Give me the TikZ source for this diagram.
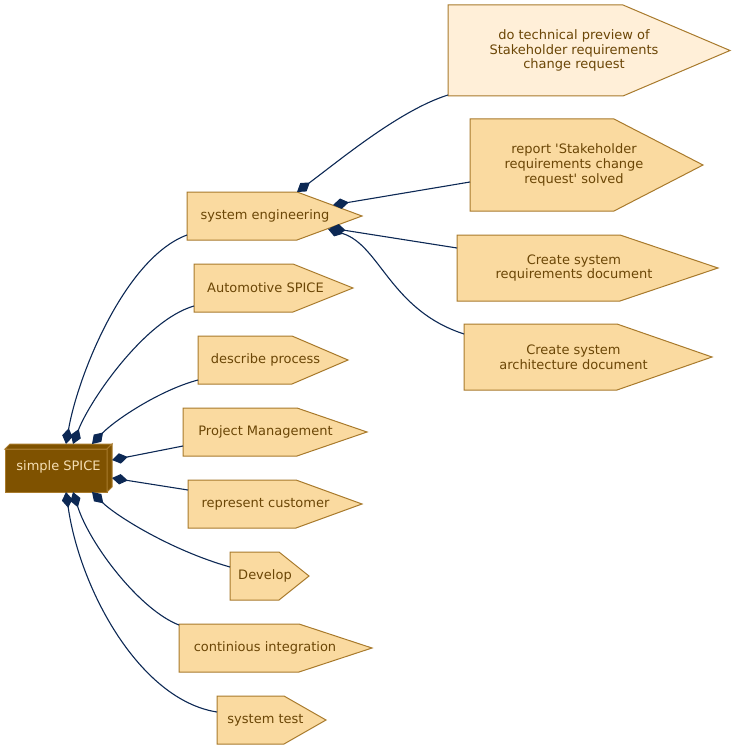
\documentclass[tikz,border=0pt]{standalone}
\usepackage{fontspec}
\setmainfont{DejaVu Sans}[Ligatures=TeXOff]
\usetikzlibrary{arrows.meta,calc}
\definecolor{fillA}{RGB}{250,218,160}
\definecolor{fillB}{RGB}{255,239,216}
\definecolor{bordc}{RGB}{168,122,44}
\definecolor{textc}{RGB}{107,70,6}
\definecolor{darkc}{RGB}{127,82,0}
\definecolor{wheatc}{RGB}{245,222,179}
\definecolor{edgec}{RGB}{12,40,84}
\tikzset{
  pent/.style={draw=bordc, line width=1pt, line join=miter},
  lbl/.style={text=textc, font=\fontsize{13}{14.7}\selectfont, align=center, inner sep=0},
  conn/.style={draw=edgec, line width=1.1pt, {Diamond[length=16pt,width=10.5pt]}-},
  frame/.style={draw=none, inner sep=0, outer sep=0},
}
% name, left, corner, tip, top, bottom, text x, fill, text
\newcommand\pentnode[9]{%
  \node[frame, minimum width={(#3-#2)*1pt}, minimum height={(#6-#5)*1pt}] (#1) at ({(#2+#3)/2},{(#5+#6)/2}) {};
  \path[pent, fill=#8] (#1.north west) -- (#1.north east) -- ($(#1.east)+(#4-#3,0)$) -- (#1.south east) -- (#1.south west) -- cycle;
  \node[lbl] (#1-t) at (#7,{(#5+#6)/2}) {#9};
}
\begin{document}
\begin{tikzpicture}[x=1pt,y=-1pt]
\useasboundingbox (0,0) rectangle (735,749);
% central node
\node[draw=bordc, fill=darkc, line width=1pt, minimum width=102pt, minimum height=43pt, inner sep=0, outer sep=0] (sp) at (56,470.5) {};
\path[draw=bordc, fill=darkc, line width=1pt, line join=miter] (sp.north west) -- ++(5,-5) -- ($(sp.north east)+(5,-5)$) -- (sp.north east) -- cycle;
\path[draw=bordc, fill=darkc, line width=1pt, line join=miter] (sp.north east) -- ++(5,-5) -- ($(sp.south east)+(5,-5)$) -- (sp.south east) -- cycle;
\node[lbl, text=wheatc] (sp-t) at (58.5,467) {simple SPICE};
% left column
\pentnode{se}{187}{297}{362}{192}{240}{265}{fillA}{system engineering}
\pentnode{as}{194}{293}{353}{264}{312}{265.5}{fillA}{Automotive SPICE}
\pentnode{dp}{198}{292}{348}{336}{384}{265.5}{fillA}{describe process}
\pentnode{pm}{183}{297}{367}{408}{456}{265.5}{fillA}{Project Management}
\pentnode{rc}{188}{296}{362}{480}{528}{265.5}{fillA}{represent customer}
\pentnode{dv}{230}{279}{309}{552}{600}{265}{fillA}{Develop}
\pentnode{ci}{179}{299}{372}{624}{672}{265}{fillA}{continious integration}
\pentnode{st}{217}{284}{326}{696}{744}{265.5}{fillA}{system test}
% right column
\pentnode{tp}{448}{623}{730}{5}{96}{574}{fillB}{do technical preview of\\Stakeholder requirements\\change request}
\pentnode{rp}{470}{614}{703}{119}{211}{574}{fillA}{report 'Stakeholder\\requirements change\\request' solved}
\pentnode{rq}{457}{620}{718}{235}{301}{574}{fillA}{Create system\\requirements document}
\pentnode{ar}{464}{617}{712}{324}{390}{573.5}{fillA}{Create system\\architecture document}
% connectors from simple SPICE
\draw[conn] ($(sp.north west)+(61,-5)$) .. controls (78,375) and (125,258) .. ($(se.north west)+(0,43)$);
\draw[conn] ($(sp.north west)+(68,-5)$) .. controls (90,400) and (145,320) .. ($(as.north west)+(0,42)$);
\draw[conn] ($(sp.north west)+(87,-5)$) .. controls (115,420) and (160,390) .. ($(dp.north west)+(0,44)$);
\draw[conn] ($(sp.north east)+(5,11)$) -- ($(pm.north west)+(0,38)$);
\draw[conn] ($(sp.north east)+(5,29)$) -- ($(rc.north west)+(0,10)$);
\draw[conn] ($(sp.south west)+(87,0)$) .. controls (115,515) and (170,550) .. ($(dv.north west)+(0,15)$);
\draw[conn] ($(sp.south west)+(68,0)$) .. controls (90,545) and (140,610) .. ($(ci.north west)+(0,1)$);
\draw[conn] ($(sp.south west)+(61,0)$) .. controls (80,590) and (140,700) .. ($(st.north west)+(0,16)$);
% connectors from system engineering
\draw[conn] (se.north east) .. controls (340,160) and (400,110) .. ($(tp.south west)+(0,-1)$);
\draw[conn] ($(se.north east)+(36,13)$) -- ($(rp.north west)+(0,63)$);
\draw[conn] ($(se.south east)+(33,-12)$) -- ($(rq.north west)+(0,13)$);
\draw[conn] ($(se.south east)+(31,-11)$) .. controls (380,245) and (390,310) .. ($(ar.north west)+(0,10)$);
\end{tikzpicture}
\end{document}
